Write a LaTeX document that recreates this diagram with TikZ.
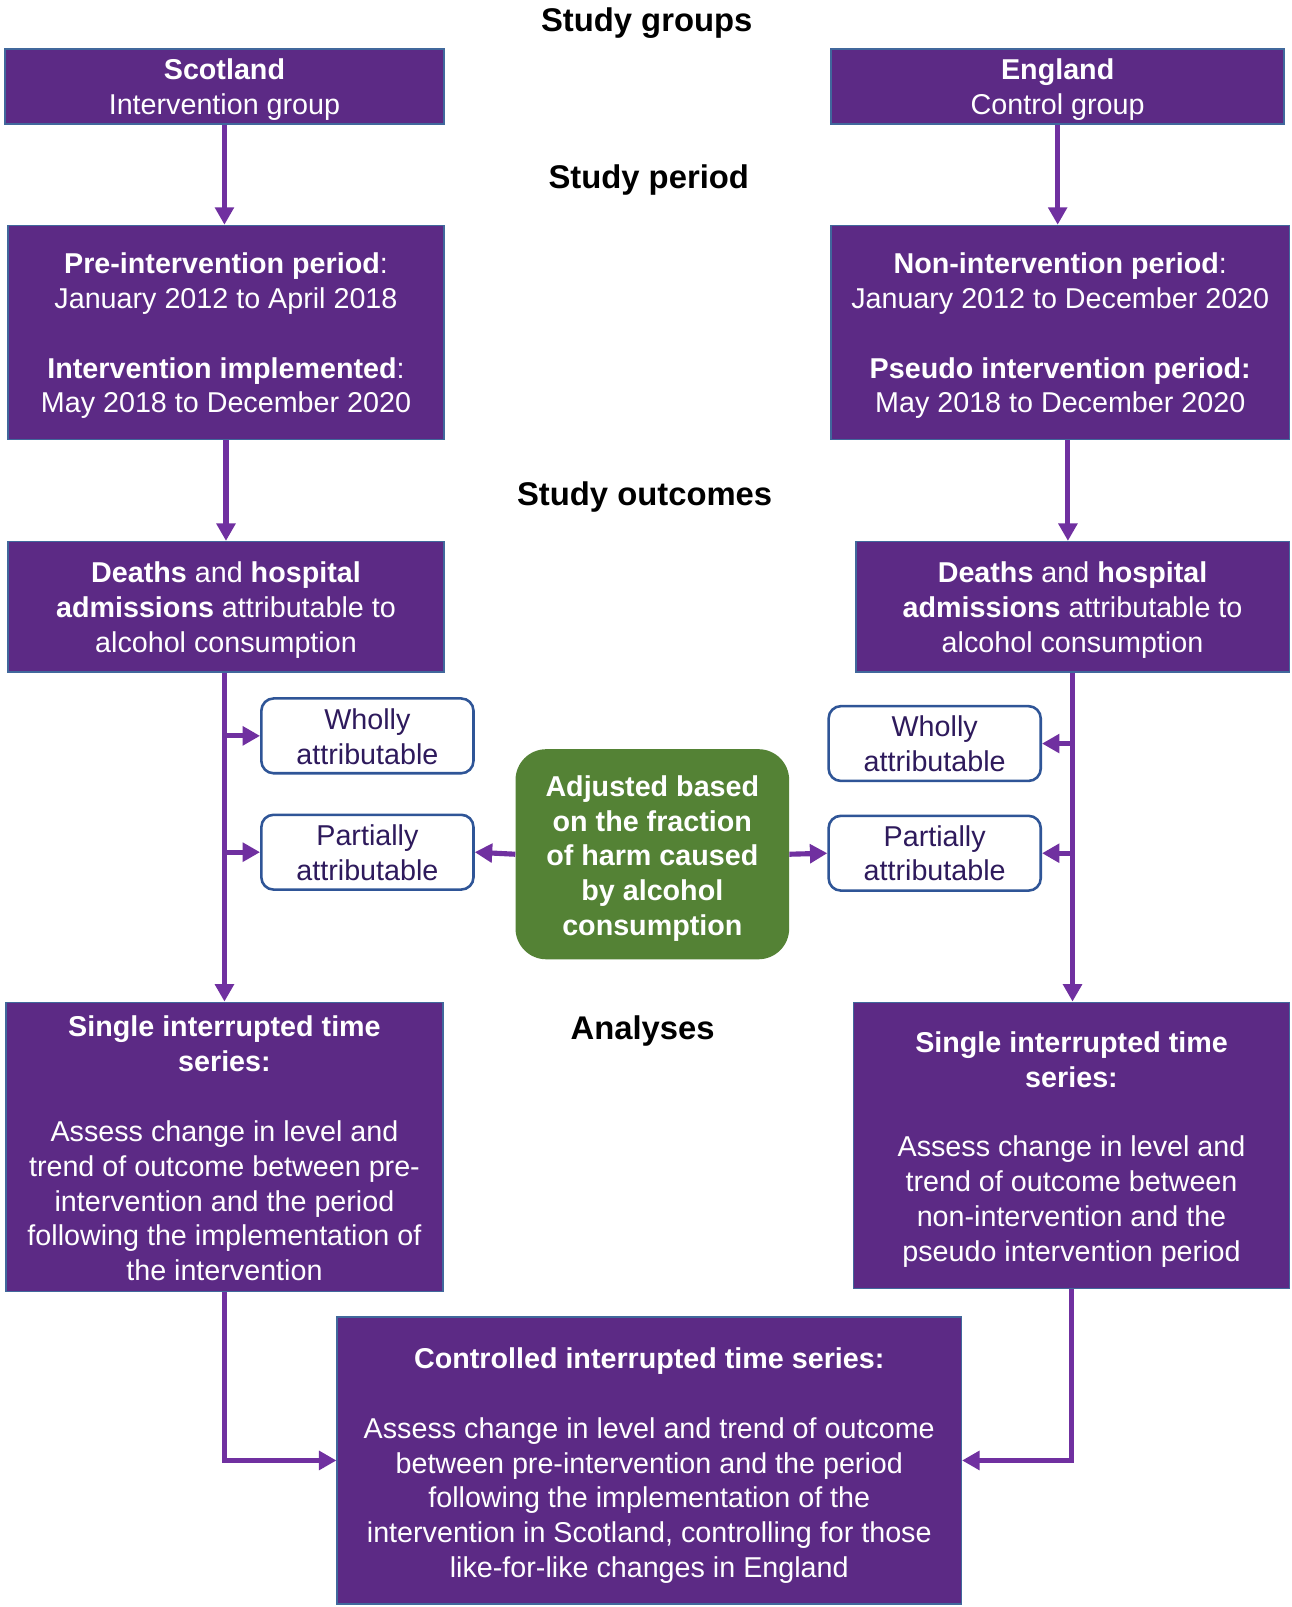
\documentclass[tikz,border=0pt]{standalone}
\usepackage{fontspec}
\setmainfont{Liberation Sans}
\usetikzlibrary{arrows.meta,calc}
\definecolor{boxpurple}{HTML}{5C2A85}
\definecolor{boxedge}{HTML}{41689C}
\definecolor{arrowpurple}{HTML}{7030A0}
\definecolor{boxgreen}{HTML}{548235}
\definecolor{wedge}{HTML}{2F5597}
\definecolor{wtext}{HTML}{2E1A5C}
\newcommand{\tstrut}[1]{\rule{0pt}{#1pt}}
\tikzset{
  pbox/.style={draw=boxedge, line width=1.5pt, fill=boxpurple, text=white, align=center,
    inner sep=0pt, font=\fontsize{28}{34}\selectfont},
  wbox/.style={draw=wedge, line width=2.5pt, fill=white, text=wtext, align=center,
    rounded corners=12pt, inner sep=0pt, minimum width=207pt, minimum height=73pt,
    font=\fontsize{28}{34}\selectfont},
  gbox/.style={fill=boxgreen, text=white, align=center, rounded corners=30pt,
    inner sep=0pt, font=\fontsize{28}{34}\selectfont\bfseries},
  heading/.style={text=black, font=\fontsize{32}{38}\selectfont\bfseries, inner sep=0pt},
  arr/.style={draw=arrowpurple, line width=5pt, -{Triangle[length=17pt,width=18pt]}},
}
\begin{document}
\begin{tikzpicture}[x=1pt,y=-1pt]
\useasboundingbox[fill=white] (0,0) rectangle (1260,1568);

% headings
\node[heading] (hgroups) at (631,23) {Study groups};
\node[heading] (hperiod) at (633,176) {Study period};
\node[heading] (houtcomes) at (629,485) {Study outcomes};
\node[heading] (hanalyses) at (627,1006) {Analyses};

% group boxes
\node[pbox, minimum width=428pt, minimum height=73pt] (scot) at (219,84.5)
  {\tstrut{26.5}\textbf{Scotland}\\Intervention group};
\node[pbox, minimum width=442pt, minimum height=73pt] (eng) at (1032,84.5)
  {\tstrut{26.5}\textbf{England}\\Control group};

% period boxes
\node[pbox, minimum width=425pt, minimum height=209pt] (pre) at (220.5,324.5)
  {\tstrut{26.5}\textbf{Pre-intervention period}:\\January 2012 to April 2018\\[34pt]
   \textbf{Intervention implemented}:\\May 2018 to December 2020};
\node[pbox, minimum width=447pt, minimum height=209pt] (non) at (1034.5,324.5)
  {\tstrut{26.5}\textbf{Non-intervention period}:\\January 2012 to December 2020\\[34pt]
   \textbf{Pseudo intervention period:}\\May 2018 to December 2020};

% outcome boxes
\node[pbox, minimum width=425pt, minimum height=127pt] (deathL) at (220.5,592)
  {\tstrut{26.5}\textbf{Deaths} and \textbf{hospital}\\\textbf{admissions} attributable to\\alcohol consumption};
\node[pbox, minimum width=423pt, minimum height=127pt] (deathR) at (1046.5,592)
  {\tstrut{26.5}\textbf{Deaths} and \textbf{hospital}\\\textbf{admissions} attributable to\\alcohol consumption};

% attributable boxes
\node[wbox] (wholL) at (358.5,718) {\tstrut{22.5}Wholly\\attributable};
\node[wbox] (partL) at (358.5,831.5) {\tstrut{21.5}Partially\\attributable};
\node[wbox] (wholR) at (912,725.5) {Wholly\\attributable};
\node[wbox] (partR) at (912,832.5) {Partially\\attributable};

% green box
\node[gbox, minimum width=267pt, minimum height=205pt] (green) at (636.5,833.5)
  {\tstrut{28.5}Adjusted based\\on the fraction\\of harm caused\\by alcohol\\consumption};

% single ITS boxes
\node[pbox, minimum width=426pt, minimum height=282pt] (itsL) at (219,1119)
  {\tstrut{23.5}\textbf{Single interrupted time}\\\textbf{series:}\\[34pt]
   Assess change in level and\\trend of outcome between pre-\\intervention and the period\\following the implementation of\\the intervention};
\node[pbox, minimum width=425pt, minimum height=279pt] (itsR) at (1045.5,1117.5)
  {\tstrut{28.5}\textbf{Single interrupted time}\\\textbf{series:}\\[34pt]
   Assess change in level and\\trend of outcome between\\non-intervention and the\\pseudo intervention period};

% controlled ITS box
\node[pbox, minimum width=609pt, minimum height=280pt] (ctrl) at (633.5,1425)
  {\tstrut{30.5}\textbf{Controlled interrupted time series:}\\[34pt]
   Assess change in level and trend of outcome\\between pre-intervention and the period\\following the implementation of the\\intervention in Scotland, controlling for those\\like-for-like changes in England};

% connectors
\draw[arr] (scot.south) -- (scot.south |- pre.north);
\draw[arr] (eng.south) -- (eng.south |- non.north);
\draw[arr] (pre.south) -- (pre.south |- deathL.north);
\coordinate (nonout) at ([xshift=7.5pt]non.south);
\draw[arr] (nonout) -- (nonout |- deathR.north);

\coordinate (lstem) at ([xshift=-1.5pt]deathL.south);
\draw[arr] (lstem) -- (lstem |- itsL.north);
\draw[arr] (lstem |- wholL.west) -- (wholL.west);
\draw[arr] (lstem |- partL.west) -- (partL.west);

\draw[arr] (deathR.south) -- (deathR.south |- itsR.north);
\draw[arr] (deathR.south |- wholR.east) -- (wholR.east);
\draw[arr] (deathR.south |- partR.east) -- (partR.east);

\draw[arr] (green.west) -- (partL.east);
\draw[arr] (green.east) -- (partR.west);

\draw[arr] (itsL.south) |- (ctrl.west);
\draw[arr] (itsR.south) |- (ctrl.east);
\end{tikzpicture}
\end{document}
